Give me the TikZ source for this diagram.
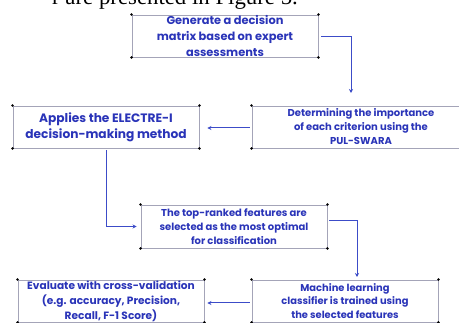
\documentclass[tikz,border=0pt]{standalone}
\usepackage{fontspec}
\setmainfont{Liberation Serif}
\newfontfamily\boxfont{Poppins}
\usetikzlibrary{arrows.meta}
\definecolor{txtblue}{HTML}{2A34B8}
\definecolor{arrblue}{HTML}{3C4CC8}
\definecolor{boxgray}{HTML}{A4A4B8}
\newcommand\cornerdots[1]{%
  \foreach \c in {north west,north east,south west,south east}
    \fill (#1.\c) circle (1.4pt);}
\begin{document}
\begin{tikzpicture}[x=1pt,y=-1pt,
  flowbox/.style 2 args={draw=boxgray,line width=0.9pt,inner sep=0pt,align=center,
    text=txtblue,font=\boxfont\bfseries\fontsize{#1}{#2}\selectfont},
  arr/.style={draw=arrblue,line width=1pt,-{Stealth[length=4pt,width=4pt]}}]
\useasboundingbox (0,0) rectangle (459,323);
\clip (0,0) rectangle (459,323);
\node[anchor=base west,inner sep=0pt,font=\fontsize{22.8}{23}\selectfont] (top) at (52,4.5) {r are presented in Figure 5.};
\node[flowbox={11.4}{16},minimum width=186pt,minimum height=42pt] (b1) at (225,36)
  {Generate a decision\\matrix based on expert\\assessments};
\node[flowbox={12.2}{16},minimum width=186pt,minimum height=42pt] (b2) at (106,127)
  {Applies the ELECTRE-I\\decision-making method};
\node[flowbox={10}{14},minimum width=218pt,minimum height=42pt] (b3) at (361,127)
  {Determining the importance\\of each criterion using the\\PUL-SWARA};
\node[flowbox={10}{13.7},minimum width=186pt,minimum height=43pt] (b4) at (234,226.5)
  {The top-ranked features are\\selected as the most optimal\\for classification};
\node[flowbox={9.9}{13.3},minimum width=186pt,minimum height=42pt] (b5) at (345,301)
  {Machine learning\\classifier is trained using\\the selected features};
\node[flowbox={10.6}{15},minimum width=186pt,minimum height=42pt] (b6) at (111,301)
  {Evaluate with cross-validation\\(e.g. accuracy, Precision,\\Recall, F-1 Score)};
\foreach \b in {b1,b2,b3,b4,b5,b6} {\cornerdots{\b}}
\coordinate (c1) at (351,93);
\coordinate (c4) at (357,277);
\draw[arr] ([xshift=3pt,yshift=-1pt]b1.east) -| (c1);
\draw[arr] ([xshift=-2pt,yshift=-1pt]b3.west) -- ([xshift=8pt,yshift=-1pt]b2.east);
\draw[arr] ([yshift=-2pt]b2.south) |- ([xshift=-4pt]b4.west);
\draw[arr] ([xshift=2pt,yshift=5.5pt]b4.east) -| (c4);
\draw[arr] ([xshift=-2pt,yshift=-2pt]b5.west) -- ([xshift=3pt,yshift=-2pt]b6.east);
\end{tikzpicture}
\end{document}
